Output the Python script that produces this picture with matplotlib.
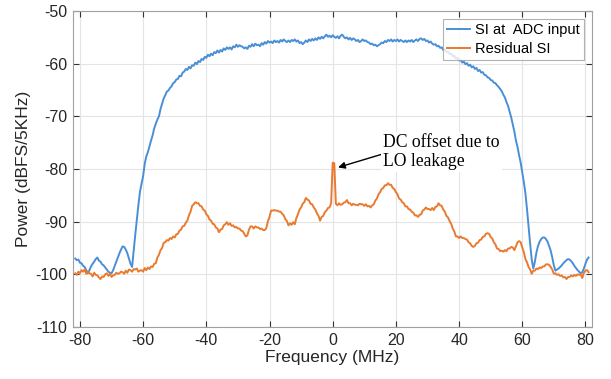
import numpy as np
import matplotlib
matplotlib.use("Agg")
import matplotlib.pyplot as plt

# Frequency grid (MHz), 0.5 MHz spacing
freq_start, freq_stop, freq_step = -81.5, 81.0, 0.5

# Power spectral density of the SI at the ADC input (dBFS/5kHz)
si_adc = [
    -97.0, -97.3, -97.2, -97.8, -97.9, -98.4, -98.6, -99.3, -99.8, -99.2,
    -98.5, -98.0, -97.6, -97.1, -96.8, -97.4, -97.6, -98.1, -98.3, -98.7,
    -99.1, -99.5, -99.7, -99.8, -99.2, -98.4, -97.6, -96.8, -96.0, -95.3,
    -94.7, -94.8, -95.3, -96.0, -97.0, -98.0, -98.6, -95.5, -92.5, -89.6,
    -86.8, -84.3, -82.8, -81.3, -79.0, -77.6, -76.8, -75.7, -74.6, -73.6,
    -72.3, -71.4, -70.6, -70.0, -68.6, -67.6, -66.6, -66.0, -65.3, -65.1,
    -64.6, -64.3, -63.7, -63.5, -63.0, -62.9, -62.3, -62.4, -61.7, -61.5,
    -61.0, -61.2, -60.6, -60.9, -60.3, -60.4, -59.8, -60.1, -59.5, -59.7,
    -59.1, -59.3, -58.7, -58.9, -58.3, -58.6, -58.1, -58.4, -57.8, -58.0,
    -57.5, -57.9, -57.4, -57.7, -57.1, -57.4, -56.9, -57.2, -56.9, -57.3,
    -56.7, -56.9, -56.4, -56.8, -56.5, -56.7, -56.8, -57.1, -56.9, -57.2,
    -56.6, -56.8, -56.3, -56.7, -56.2, -56.5, -56.4, -56.7, -56.1, -56.4,
    -55.9, -56.2, -55.7, -56.0, -55.8, -56.1, -55.6, -55.9, -55.7, -56.0,
    -55.5, -55.8, -55.4, -55.7, -55.9, -55.6, -55.9, -55.5, -55.7, -55.4,
    -55.8, -55.6, -56.1, -55.9, -56.3, -56.0, -55.6, -55.9, -55.4, -55.7,
    -55.3, -55.6, -55.2, -55.5, -55.0, -55.3, -54.9, -55.2, -54.8, -54.5,
    -54.9, -54.7, -55.0, -54.6, -54.9, -55.1, -54.8, -55.2, -54.7, -54.5,
    -54.9, -55.2, -55.0, -55.4, -55.1, -55.5, -55.2, -55.4, -55.7, -55.5,
    -55.9, -55.7, -55.4, -55.7, -55.6, -55.9, -56.0, -56.3, -56.2, -56.5,
    -56.4, -56.7, -56.5, -56.3, -56.0, -56.1, -55.7, -55.9, -55.5, -55.7,
    -55.4, -55.8, -55.5, -55.7, -55.4, -55.8, -55.5, -55.7, -55.9, -55.6,
    -55.9, -55.6, -55.8, -55.5, -55.9, -55.6, -55.4, -55.7, -55.3, -55.2,
    -55.5, -55.3, -55.7, -55.6, -56.0, -55.8, -56.2, -56.4, -56.3, -56.7,
    -56.6, -57.0, -56.9, -57.4, -57.3, -57.8, -57.7, -58.2, -58.1, -58.6,
    -58.5, -59.0, -58.9, -59.4, -59.3, -59.8, -59.6, -60.1, -59.9, -60.4,
    -60.2, -60.7, -60.5, -61.0, -60.8, -61.4, -61.2, -61.7, -61.6, -62.1,
    -62.2, -62.6, -62.7, -63.1, -63.2, -63.6, -63.7, -64.1, -64.4, -64.8,
    -65.2, -65.9, -66.4, -67.3, -68.0, -69.1, -70.2, -71.6, -72.9, -74.6,
    -75.8, -77.4, -78.8, -80.6, -82.5, -84.6, -87.6, -91.0, -94.2, -97.2,
    -98.9, -97.6, -95.8, -94.6, -93.8, -93.3, -93.0, -93.0, -93.3, -93.8,
    -94.6, -95.5, -96.8, -98.3, -99.3, -99.1, -98.9, -98.6, -98.3, -97.9,
    -97.6, -97.3, -97.1, -97.2, -97.5, -97.9, -98.4, -98.8, -99.2, -99.5,
    -99.8, -99.6, -98.9, -98.0, -97.2, -96.8,
]

# Residual SI after cancellation (dBFS/5kHz)
residual_si = [
    -99.8, -100.1, -99.5, -99.8, -99.2, -99.5, -99.1, -99.9, -99.4, -99.8,
    -99.9, -100.4, -99.7, -100.1, -100.2, -100.6, -100.9, -100.4, -100.5, -100.0,
    -99.8, -100.3, -99.9, -100.5, -100.2, -100.1, -99.7, -99.9, -99.8, -99.5,
    -99.6, -99.9, -99.3, -99.7, -99.1, -99.2, -99.5, -99.0, -99.1, -98.9,
    -99.5, -99.3, -99.2, -99.5, -98.8, -99.2, -98.7, -99.0, -98.5, -98.6,
    -98.0, -97.9, -96.8, -96.3, -95.4, -95.0, -94.0, -93.9, -93.5, -93.6,
    -93.1, -93.3, -92.8, -93.0, -92.4, -92.3, -91.7, -91.5, -90.9, -90.8,
    -90.2, -89.8, -88.8, -88.1, -87.0, -86.7, -86.3, -86.5, -86.5, -87.0,
    -87.1, -87.7, -87.9, -88.6, -88.9, -89.6, -89.8, -90.4, -90.5, -91.1,
    -91.3, -92.0, -91.5, -91.4, -90.7, -90.5, -90.1, -90.6, -90.3, -90.8,
    -90.7, -91.1, -91.0, -91.3, -91.3, -91.7, -91.8, -92.3, -92.8, -92.6,
    -91.5, -90.9, -90.9, -91.3, -90.9, -91.1, -91.1, -91.4, -91.3, -91.6,
    -91.6, -91.2, -89.9, -89.1, -87.9, -87.9, -87.8, -87.9, -87.9, -88.1,
    -88.1, -88.5, -88.8, -89.5, -89.9, -90.7, -90.3, -90.6, -90.1, -90.5,
    -89.3, -88.6, -87.7, -87.3, -86.6, -86.3, -85.5, -85.8, -86.0, -86.6,
    -86.7, -87.3, -87.7, -88.4, -88.9, -89.8, -89.1, -88.9, -88.2, -87.9,
    -87.4, -87.3, -86.5, -78.8, -78.9, -86.6, -86.9, -86.5, -86.8, -86.7,
    -86.4, -86.3, -85.9, -86.5, -86.5, -86.9, -86.6, -86.8, -86.8, -86.9,
    -86.6, -86.7, -86.7, -87.0, -86.7, -87.1, -87.0, -87.3, -86.9, -86.7,
    -86.0, -85.6, -84.8, -84.4, -83.8, -83.6, -83.1, -83.1, -82.7, -83.0,
    -83.0, -83.6, -83.8, -84.4, -84.8, -85.6, -85.8, -86.3, -86.5, -87.1,
    -87.1, -87.6, -87.7, -88.1, -88.3, -88.8, -88.8, -89.1, -88.7, -88.6,
    -87.9, -87.7, -87.3, -87.6, -87.6, -87.8, -87.4, -87.8, -87.2, -87.1,
    -86.5, -86.9, -87.0, -87.7, -88.1, -88.9, -89.2, -89.9, -90.4, -91.3,
    -91.9, -92.8, -92.8, -93.1, -92.8, -93.1, -93.1, -93.3, -93.4, -93.9,
    -94.1, -94.6, -94.8, -94.6, -94.1, -94.0, -93.5, -93.4, -92.9, -92.8,
    -92.3, -92.2, -92.3, -92.9, -93.2, -93.9, -94.3, -95.1, -95.2, -95.6,
    -95.5, -95.7, -95.4, -95.6, -95.1, -95.1, -94.8, -94.9, -95.4, -94.7,
    -93.9, -93.7, -93.9, -94.9, -95.8, -97.1, -97.7, -98.6, -99.1, -99.9,
    -99.3, -99.3, -98.9, -99.0, -98.7, -98.8, -98.5, -98.5, -98.1, -98.1,
    -98.2, -98.6, -99.1, -99.9, -99.8, -100.1, -100.0, -100.3, -100.2, -100.6,
    -100.5, -100.9, -100.5, -100.5, -100.2, -100.4, -100.1, -100.3, -100.0, -100.1,
    -100.0, -100.7, -99.7, -99.3, -99.2, -99.6,
]

series_labels = ["SI at  ADC input", "Residual SI"]
x_ticks = [-80, -60, -40, -20, 0, 20, 40, 60, 80]
y_ticks = [-110, -100, -90, -80, -70, -60, -50]

freq = np.arange(freq_start, freq_stop + freq_step / 2, freq_step)

plt.rcParams["font.family"] = ["Liberation Sans", "DejaVu Sans"]
plt.rcParams["axes.unicode_minus"] = False

fig = plt.figure(figsize=(6.11, 3.79), dpi=100)
ax = fig.add_axes([0.1195, 0.1372, 0.849, 0.8338])

blue = "#4A8FD6"
orange = "#EA7A30"
ax.plot(freq, si_adc, color=blue, lw=1.4, label=series_labels[0], zorder=3)
ax.plot(freq, residual_si, color=orange, lw=1.4, label=series_labels[1], zorder=3)

ax.set_xlim(-82.2, 82.0)
ax.set_ylim(-110, -50)
ax.set_xticks(x_ticks)
ax.set_yticks(y_ticks)
ax.tick_params(direction="in", length=4, width=0.8, colors="#333333",
               labelsize=11.5, top=True, right=True, pad=4)
ax.tick_params(axis="both", labelcolor="#262626")
for s in ax.spines.values():
    s.set_color("#A0A0A0")
    s.set_linewidth(0.8)
ax.grid(True, color="#E4E4E4", lw=0.8, zorder=0)
ax.set_axisbelow(True)

ax.set_xlabel("Frequency (MHz)", fontsize=12.5, color="#262626", labelpad=2)
ax.set_ylabel("Power (dBFS/5KHz)", fontsize=12.5, color="#262626", labelpad=3)

leg = ax.legend(loc="upper right", fontsize=10.5, frameon=True, fancybox=False,
                borderpad=0.3, handlelength=1.6, handletextpad=0.3,
                labelspacing=0.3, borderaxespad=0.55)
leg.get_frame().set_edgecolor("#A0A0A0")
leg.get_frame().set_linewidth(0.8)

# Annotation pointing at the LO leakage tone at DC
ax.annotate("DC offset due to\nLO leakage", xy=(1.7, -79.7), xytext=(16.0, -73.3),
            fontsize=12.7, family=["Liberation Serif", "DejaVu Serif"],
            va="top", ha="left", linespacing=1.2, zorder=4,
            bbox=dict(boxstyle="square,pad=0.1", fc="white", ec="none"),
            arrowprops=dict(arrowstyle="-|>", color="black", lw=1.0,
                            mutation_scale=10, shrinkA=0, shrinkB=0,
                            relpos=(0.0, 0.45)))

fig.savefig("out.png", dpi=100)
